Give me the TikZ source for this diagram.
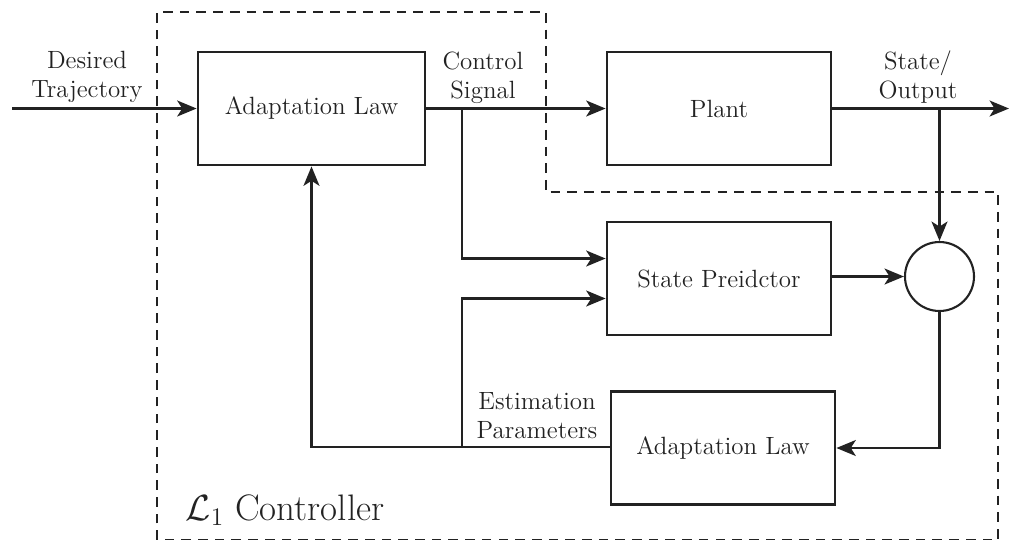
\documentclass[tikz,border=0pt]{standalone}
\usetikzlibrary{arrows.meta}
\definecolor{ink}{HTML}{222222}
\begin{document}
\begin{tikzpicture}[x=0.02cm,y=-0.02cm,
  every node/.style={font=\fontsize{14.2}{16.5}\selectfont, text=ink},
  block/.style={draw=ink, line width=1.6pt, rectangle, inner sep=0pt},
  sumnode/.style={draw=ink, line width=1.2pt, circle, minimum size=1.38cm, inner sep=0pt},
  lbl/.style={align=center, inner sep=0pt},
  wire/.style={draw=ink, line width=1.6pt},
  arr/.style={wire, -{Stealth[length=11pt,width=9pt,inset=2.8pt]}},
  boundary/.style={draw=ink, line width=1.6pt, dash pattern=on 5.5pt off 4pt}
]
\useasboundingbox (0,0) rectangle (1009,539);

% dashed controller boundary
\draw[boundary] (157,540) -- (157,12) -- (546,12) -- (546,192) -- (998,192) -- (998,540) -- cycle;

% blocks
\node[block, minimum width=4.54cm, minimum height=2.26cm] (law1) at (311.5,108.5) {Adaptation Law};
\node[block, minimum width=4.48cm, minimum height=2.26cm] (plant) at (719,108.5) {Plant};
\node[block, minimum width=4.48cm, minimum height=2.26cm] (pred) at (719,278.5) {State Preidctor};
\node[block, minimum width=4.48cm, minimum height=2.26cm] (law2) at (723,448) {Adaptation Law};
\node[sumnode] (sum) at (939.5,276.5) {};

% helper coordinates
\coordinate (in) at (12,108.5);
\coordinate (out) at (1009,108.5);
\coordinate (cs) at (462,108.5);
\coordinate (so) at (939.5,108.5);
\coordinate (ep) at (462,447);
\coordinate (fb) at (311.5,447);

% labels
\node[lbl] (ldes) at (87,77) {Desired\\Trajectory};
\node[lbl] (lcs) at (483,78) {Control\\Signal};
\node[lbl] (lso) at (918,77) {State/\\Output};
\node[lbl] (lep) at (537,416) {Estimation\\Parameters};
\node[lbl, font=\fontsize{21}{24}\selectfont] (lctl) at (285,510) {$\mathcal{L}_1$ Controller};

% connectors
\draw[arr] (in) -- (law1.west);
\draw[arr] (law1.east) -- (plant.west);
\draw[arr] (plant.east) -- (out);
\draw[arr] (cs) |- ([yshift=0.4cm]pred.west);
\draw[arr] (so) -- (sum.north);
\draw[arr] (pred.east |- sum) -- (sum.west);
\draw[arr] (sum.south) |- (law2.east);
\draw[arr] (law2.west |- ep) -- (fb) -- (law1.south);
\draw[arr] (ep) |- ([yshift=-0.4cm]pred.west);
\end{tikzpicture}
\end{document}
